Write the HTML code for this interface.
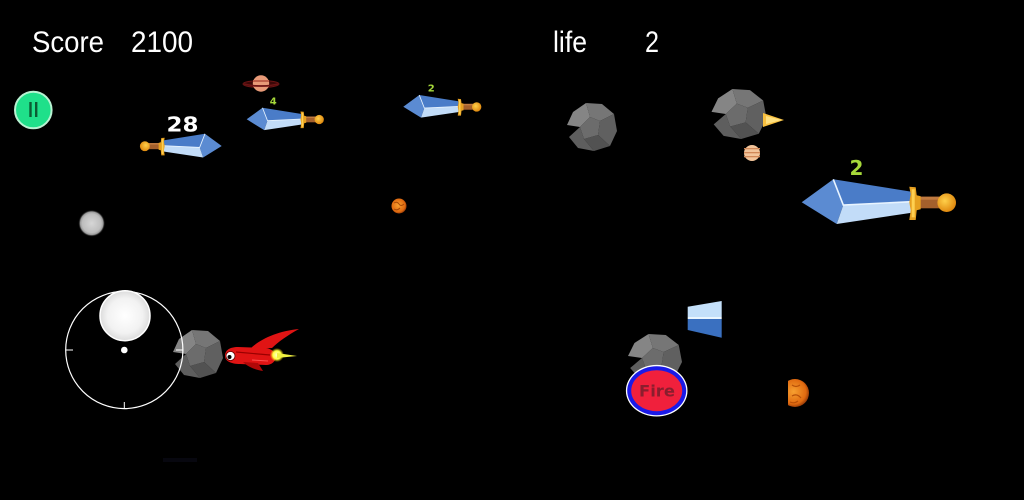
<!DOCTYPE html>
<html><head><meta charset="utf-8"><style>
html,body{margin:0;padding:0;background:#000;}
svg{display:block;}
</style></head><body>
<svg width="1024" height="500" viewBox="0 0 1024 500" xmlns="http://www.w3.org/2000/svg">
<defs>
  <radialGradient id="knob" cx="0.5" cy="0.5" r="0.5">
    <stop offset="0" stop-color="#ffffff"/>
    <stop offset="0.7" stop-color="#f2f2f2"/>
    <stop offset="1" stop-color="#dcdcdc"/>
  </radialGradient>
  <radialGradient id="dot" cx="0.5" cy="0.5" r="0.5">
    <stop offset="0" stop-color="#d6d6d6"/>
    <stop offset="0.7" stop-color="#bdbdbd"/>
    <stop offset="0.85" stop-color="#9a9a9a"/>
    <stop offset="1" stop-color="#000" stop-opacity="0"/>
  </radialGradient>
  <radialGradient id="gold" cx="0.4" cy="0.4" r="0.6">
    <stop offset="0" stop-color="#ffd04a"/>
    <stop offset="1" stop-color="#e08a10"/>
  </radialGradient>
  <radialGradient id="orange" cx="0.45" cy="0.45" r="0.55">
    <stop offset="0" stop-color="#f7a030"/>
    <stop offset="0.8" stop-color="#e06a10"/>
    <stop offset="1" stop-color="#a04008"/>
  </radialGradient>
  <radialGradient id="flame" cx="0.5" cy="0.5" r="0.5">
    <stop offset="0" stop-color="#ffffd0"/>
    <stop offset="0.6" stop-color="#ffff40"/>
    <stop offset="1" stop-color="#f0c000" stop-opacity="0"/>
  </radialGradient>
  <g id="sword">
    <polygon points="0,0 31.6,-23 41.6,2.7 35,21.7" fill="#5b8bd2"/>
    <polygon points="31.6,-23 110,-10.6 110,-0.6 41.6,2.7" fill="#4a7cc8"/>
    <polygon points="41.6,2.7 110,-0.6 110,10.4 35,21.7" fill="#c2dcf8"/>
    <polyline points="31.6,-23 41.6,2.7 110,-0.6" fill="none" stroke="#e8f4ff" stroke-width="1.6"/>
    <rect x="118" y="-5.6" width="22" height="11.6" fill="#a4602c"/>
    <rect x="118" y="-5.6" width="22" height="3" fill="#c07a40"/>
    <path d="M107.6,-15.6 L114,-15 L115,-7 L119,-6 L119,7 L115,8 L114,17.7 L107.6,17.7 L109,8 L107.6,0 L109,-8 Z" fill="#e6a020"/>
    <rect x="110" y="-13" width="3" height="28" fill="#ffd050"/>
    <circle cx="145" cy="0.4" r="9.3" fill="url(#gold)"/>
  </g>
  <g id="rock">
    <polygon points="-25,-2 -19,-15 -6,-24 -2,-10 -12,0" fill="#858585"/>
    <polygon points="-6,-24 10,-23 22,-13 8,-6 -2,-10" fill="#767676"/>
    <polygon points="22,-13 25,4 18,19 6,8 8,-6" fill="#606060"/>
    <polygon points="18,19 2,24 -8,12 6,8" fill="#525252"/>
    <polygon points="-8,12 2,24 -14,21 -23,10 -12,0" fill="#5e5e5e"/>
    <polygon points="-12,0 -2,-10 8,-6 6,8 -8,12" fill="#6c6c6c"/>
  </g>
</defs>

<!-- HUD text -->
<g font-family="Liberation Sans, sans-serif" font-size="30" fill="#ffffff">
  <text x="32" y="52" textLength="72" lengthAdjust="spacingAndGlyphs">Score</text>
  <text x="131" y="52" textLength="62" lengthAdjust="spacingAndGlyphs">2100</text>
  <text x="553" y="52" textLength="34" lengthAdjust="spacingAndGlyphs">life</text>
  <text x="645" y="52" textLength="14" lengthAdjust="spacingAndGlyphs">2</text>
</g>

<!-- pause button -->
<circle cx="33.3" cy="110" r="18.3" fill="#1fe08a" stroke="#b8f2d2" stroke-width="2"/>
<rect x="29.3" y="102" width="2.4" height="15" fill="#0b5c33"/>
<rect x="35" y="102" width="2.4" height="15" fill="#0b5c33"/>

<!-- saturn -->
<ellipse cx="261" cy="84" rx="18" ry="3.5" fill="#3a0808" stroke="#6a1414" stroke-width="1"/>
<circle cx="261" cy="83.5" r="8.2" fill="#e89a78"/>
<rect x="253" y="80" width="16" height="2" fill="#c0604a"/>
<rect x="253" y="85" width="16" height="2" fill="#b05040"/>
<path d="M244,84 Q261,88 278,84" fill="none" stroke="#6a1414" stroke-width="1.5"/>

<!-- swords -->
<use href="#sword" transform="translate(801.7,202.3)"/>
<use href="#sword" transform="translate(403.3,106.7) scale(0.506)"/>
<use href="#sword" transform="translate(246.7,119.3) scale(0.5)"/>
<use href="#sword" transform="translate(221.7,146) scale(-0.53,0.53)"/>

<!-- sword labels -->
<g font-family="DejaVu Sans, sans-serif" font-weight="bold">
  <text x="166.5" y="131.7" font-size="20" fill="#ffffff" textLength="32" lengthAdjust="spacingAndGlyphs">28</text>
  <text x="269.8" y="104.3" font-size="10" fill="#a6d83a">4</text>
  <text x="427.8" y="91.7" font-size="10" fill="#a6d83a">2</text>
  <text x="849.5" y="175" font-size="20" fill="#a6d83a">2</text>
</g>

<!-- grey dot -->
<circle cx="91.7" cy="223.3" r="13.5" fill="url(#dot)"/>

<!-- small orange planet -->
<circle cx="399" cy="206" r="7.5" fill="url(#orange)"/>
<path d="M394,203 q3,-2 5,1 q2,3 5,0 M394,209 q3,2 6,-1" fill="none" stroke="#a84a08" stroke-width="1"/>

<!-- asteroids -->
<use href="#rock" transform="translate(592,127)"/>
<use href="#rock" transform="translate(739,114) scale(1.1,1.04)"/>
<polygon points="763,113 784,120 763,127" fill="#f8c040"/>
<polygon points="766,116 782,120 766,124" fill="#ffe080"/>
<use href="#rock" transform="translate(198,354)"/>
<use href="#rock" transform="translate(655,358) scale(1.08,1)"/>

<!-- striped planet -->
<circle cx="752" cy="153" r="8" fill="#f2c49a"/>
<rect x="744" y="148" width="16" height="1.3" fill="#d08858"/>
<rect x="744" y="152" width="16" height="1.3" fill="#d08858"/>
<rect x="744" y="156" width="16" height="1.3" fill="#d08858"/>

<!-- joystick -->
<circle cx="124.3" cy="350" r="58.6" fill="none" stroke="#ffffff" stroke-width="1.2"/>
<line x1="66" y1="350" x2="73" y2="350" stroke="#fff" stroke-width="1"/>
<line x1="176" y1="350" x2="183" y2="350" stroke="#fff" stroke-width="1"/>
<line x1="124.3" y1="402" x2="124.3" y2="409" stroke="#fff" stroke-width="1"/>
<circle cx="125" cy="315.7" r="25" fill="url(#knob)" stroke="#ffffff" stroke-width="1.5"/>
<circle cx="124.3" cy="350" r="3.3" fill="#ffffff"/>

<!-- rocket -->
<path d="M250,349 C260,339 278,331 299,329 C288,335 278,342 272,348 Z" fill="#e01414"/>
<path d="M225,356 C225,350 230,347 238,347 L266,348 C272,349 276,353 276,356 C276,361 272,365 266,365 L240,364 C231,364 225,361 225,356 Z" fill="#e01414"/>
<path d="M243,362 L258,363 L263,371 C256,370 248,367 243,362 Z" fill="#b00808"/>
<path d="M236,352 L270,355" stroke="#9a0000" stroke-width="1.2" fill="none"/>
<path d="M252,360 L268,361" stroke="#ff5050" stroke-width="1" fill="none"/>
<circle cx="230.5" cy="356" r="4.5" fill="#ffffff" stroke="#600000" stroke-width="0.8"/>
<circle cx="229.5" cy="357" r="2" fill="#000"/>
<circle cx="277" cy="355" r="7" fill="url(#flame)"/>
<polygon points="277,353 297,356 277,358" fill="#f0f040"/>

<!-- blue fragment -->
<polygon points="687.7,306.7 721.7,301 721.7,317 687.7,317" fill="#c4e0fa"/>
<polygon points="687.7,317 721.7,317 721.7,319 687.7,319" fill="#eaf6ff"/>
<polygon points="687.7,319 721.7,319 721.7,337.7 687.7,330" fill="#3a70c0"/>

<!-- right orange planet (clipped) -->
<clipPath id="cp"><rect x="788" y="370" width="30" height="45"/></clipPath>
<circle cx="795" cy="393" r="14" fill="url(#orange)" clip-path="url(#cp)"/>
<path d="M792,385 q4,3 8,0 M792,396 q5,-3 9,2 M790,402 q4,2 8,-1" fill="none" stroke="#b85008" stroke-width="1.2" clip-path="url(#cp)"/>

<!-- fire button -->
<ellipse cx="656.7" cy="390.7" rx="30.8" ry="25.8" fill="#ffffff"/>
<ellipse cx="656.7" cy="390.7" rx="29.5" ry="24.5" fill="#1a1ae8"/>
<ellipse cx="656.7" cy="390.7" rx="25.5" ry="20.5" fill="#f0203c"/>
<text x="657" y="396.5" text-anchor="middle" font-family="DejaVu Sans, sans-serif" font-weight="bold" font-size="16" fill="#8a1e2e" textLength="36" lengthAdjust="spacingAndGlyphs">Fire</text>

<!-- faint bottom mark -->
<rect x="163" y="458" width="34" height="4" fill="#07070f"/>
</svg>
</body></html>
